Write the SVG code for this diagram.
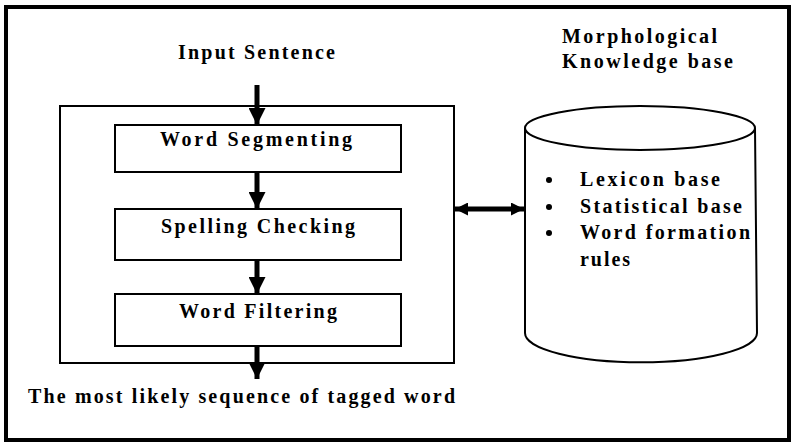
<svg xmlns="http://www.w3.org/2000/svg" width="795" height="448" viewBox="0 0 795 448">
<style>
text{font-family:"Liberation Serif","Times New Roman",serif;font-weight:bold;font-size:20px;fill:#000}
.box{fill:#fff;stroke:#000;stroke-width:2}
.shaft{stroke:#000;stroke-width:5;fill:none}
</style>
<defs>
<marker id="ah" viewBox="0 0 10 10" refX="10" refY="5" markerWidth="3.4" markerHeight="3.4" orient="auto" markerUnits="strokeWidth"><path d="M0,0L10,5L0,10z" fill="#000"/></marker>
<marker id="ah2" viewBox="0 0 10 10" refX="10" refY="5" markerWidth="2.6" markerHeight="2.6" orient="auto-start-reverse" markerUnits="strokeWidth"><path d="M0,0L10,5L0,10z" fill="#000"/></marker>
</defs>
<rect width="795" height="448" fill="#fff"/>
<rect x="6" y="7" width="783" height="433" fill="none" stroke="#000" stroke-width="4"/>
<g id="inputLabel"><text x="178" y="59" textLength="157" lengthAdjust="spacing">Input Sentence</text></g>
<g id="process"><rect class="box" x="60" y="106" width="394" height="257"/></g>
<g id="wordSeg"><rect class="box" x="115" y="125" width="286" height="47"/><text x="160" y="146" textLength="192" lengthAdjust="spacing">Word Segmenting</text></g>
<g id="spell"><rect class="box" x="115" y="209" width="286" height="51"/><text x="161" y="233" textLength="194" lengthAdjust="spacing">Spelling Checking</text></g>
<g id="filter"><rect class="box" x="115" y="294" width="286" height="52"/><text x="179" y="318" textLength="158" lengthAdjust="spacing">Word Filtering</text></g>
<g id="outputLabel"><text x="28" y="403" textLength="427" lengthAdjust="spacing">The most likely sequence of tagged word</text></g>
<g id="kbLabel"><text x="562" y="43" textLength="155" lengthAdjust="spacing">Morphological</text><text x="562" y="68" textLength="171" lengthAdjust="spacing">Knowledge base</text></g>
<g id="kb">
<path d="M525,128 L525,333 A115,29 0 0 0 757,333 L755,128" fill="#fff" stroke="#000" stroke-width="2"/>
<ellipse cx="640" cy="128" rx="115" ry="22" fill="#fff" stroke="#000" stroke-width="2"/>
<circle cx="549" cy="180" r="3"/><text x="580" y="186" textLength="140" lengthAdjust="spacing">Lexicon base</text>
<circle cx="549" cy="207" r="3"/><text x="580" y="213" textLength="162" lengthAdjust="spacing">Statistical base</text>
<circle cx="549" cy="233" r="3"/><text x="580" y="239" textLength="170" lengthAdjust="spacing">Word formation</text>
<text x="580" y="266" textLength="50" lengthAdjust="spacing">rules</text>
</g>
<g id="connectors">
<line class="shaft" x1="257" y1="85" x2="257" y2="125" marker-end="url(#ah)"/>
<line class="shaft" x1="257" y1="172" x2="257" y2="209" marker-end="url(#ah)"/>
<line class="shaft" x1="257" y1="260" x2="257" y2="294" marker-end="url(#ah)"/>
<line class="shaft" x1="257" y1="346" x2="257" y2="379" marker-end="url(#ah)"/>
<line class="shaft" x1="455" y1="209" x2="524" y2="209" marker-start="url(#ah2)" marker-end="url(#ah2)"/>
</g>
</svg>
